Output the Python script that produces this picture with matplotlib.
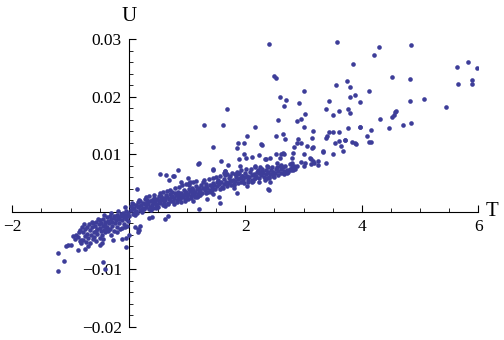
import matplotlib
matplotlib.use("Agg")
import matplotlib.pyplot as plt
from matplotlib.ticker import MultipleLocator, FixedLocator
import numpy as np

# Points, as (T, U) pairs, grouped by region

# left tail, T < 0
tail_neg = [
    (-1.21, -0.0103), (-1.21, -0.0071), (-1.12, -0.0086), (-1.07, -0.0059),
    (-1.04, -0.0058), (-0.99, -0.0058), (-0.87, -0.0066), (-0.75, -0.0064),
    (-0.82, -0.0055), (-0.79, -0.0050), (-0.84, -0.0051), (-0.49, -0.0058),
    (-0.45, -0.0088), (-0.41, -0.0099), (-0.44, -0.0047), (-0.27, -0.0050),
    (-0.12, -0.0047), (-0.04, -0.0045), (-0.05, -0.0062), (-0.46, -0.0055),
    (-0.70, -0.0060), (-0.92, -0.0048), (-0.95, -0.0043),
]

# dense cluster left of the origin
core_neg = [
    (-0.80, -0.0027), (-0.78, -0.0035), (-0.76, -0.0042), (-0.75, -0.0030),
    (-0.72, -0.0026), (-0.71, -0.0038), (-0.70, -0.0046), (-0.68, -0.0022),
    (-0.66, -0.0031), (-0.65, -0.0040), (-0.63, -0.0027), (-0.62, -0.0020),
    (-0.60, -0.0035), (-0.59, -0.0044), (-0.58, -0.0024), (-0.56, -0.0018),
    (-0.55, -0.0030), (-0.54, -0.0039), (-0.52, -0.0022), (-0.50, -0.0015),
    (-0.50, -0.0028), (-0.48, -0.0034), (-0.47, -0.0019), (-0.45, -0.0025),
    (-0.44, -0.0012), (-0.42, -0.0031), (-0.41, -0.0017), (-0.40, -0.0022),
    (-0.38, -0.0010), (-0.37, -0.0027), (-0.36, -0.0016), (-0.34, -0.0020),
    (-0.33, -0.0008), (-0.32, -0.0030), (-0.30, -0.0013), (-0.29, -0.0018),
    (-0.28, -0.0024), (-0.26, -0.0007), (-0.25, -0.0011), (-0.24, -0.0020),
    (-0.22, -0.0015), (-0.21, -0.0005), (-0.20, -0.0026), (-0.18, -0.0009),
    (-0.17, -0.0013), (-0.16, -0.0019), (-0.14, -0.0004), (-0.13, -0.0008),
    (-0.12, -0.0015), (-0.10, -0.0002), (-0.09, -0.0010), (-0.08, -0.0021),
    (-0.06, -0.0005), (-0.05, -0.0012), (-0.04, 0.0001), (-0.03, -0.0007),
    (-0.02, -0.0016), (-0.01, -0.0003), (-0.06, 0.0008), (-0.46, -0.0040),
    (-0.40, -0.0036), (-0.35, -0.0034), (-0.62, -0.0048), (-0.86, -0.0036),
    (-0.88, -0.0044), (-0.84, -0.0032), (-0.90, -0.0040), (-0.82, -0.0049),
    (-0.74, -0.0052), (-0.67, -0.0055), (-0.56, -0.0051), (-0.50, -0.0046),
    (-0.30, -0.0040), (-0.26, -0.0034), (-0.20, -0.0036), (-0.15, -0.0030),
    (-0.11, -0.0028), (-0.06, -0.0026), (-0.03, -0.0024), (0.00, -0.0041),
    (-0.77, -0.0021), (-0.64, -0.0017), (-0.53, -0.0012), (-0.43, -0.0006),
    (-0.31, -0.0003), (-0.19, 0.0001), (-0.57, -0.0034), (-0.39, -0.0029),
]

# dense cluster right of the origin, 0 < T < 1.2
core_pos = [
    (0.03, 0.0003), (0.01, -0.0007), (0.04, 0.0010), (0.06, 0.0005),
    (0.07, -0.0004), (0.05, 0.0015), (0.09, 0.0007), (0.10, -0.0001),
    (0.08, 0.0013), (0.12, 0.0002), (0.13, 0.0011), (0.11, -0.0006),
    (0.15, 0.0008), (0.16, 0.0017), (0.14, -0.0002), (0.18, 0.0010),
    (0.19, 0.0003), (0.17, 0.0021), (0.21, 0.0012), (0.22, 0.0004),
    (0.20, 0.0019), (0.24, 0.0007), (0.25, 0.0016), (0.23, -0.0001),
    (0.27, 0.0013), (0.28, 0.0022), (0.26, 0.0005), (0.30, 0.0009),
    (0.31, 0.0017), (0.29, 0.0025), (0.33, 0.0014), (0.34, 0.0005),
    (0.32, 0.0021), (0.36, 0.0018), (0.37, 0.0009), (0.35, 0.0027),
    (0.39, 0.0012), (0.40, 0.0020), (0.38, 0.0003), (0.42, 0.0016),
    (0.43, 0.0024), (0.41, 0.0007), (0.45, 0.0019), (0.46, 0.0011),
    (0.44, 0.0029), (0.48, 0.0014), (0.49, 0.0022), (0.47, 0.0006),
    (0.51, 0.0019), (0.52, 0.0027), (0.50, 0.0009), (0.54, 0.0016),
    (0.55, 0.0023), (0.53, 0.0033), (0.57, 0.0020), (0.58, 0.0011),
    (0.56, 0.0027), (0.60, 0.0024), (0.61, 0.0015), (0.59, 0.0034),
    (0.63, 0.0021), (0.64, 0.0029), (0.62, 0.0010), (0.66, 0.0025),
    (0.67, 0.0016), (0.65, 0.0036), (0.69, 0.0022), (0.70, 0.0031),
    (0.68, 0.0013), (0.72, 0.0026), (0.73, 0.0018), (0.71, 0.0038),
    (0.75, 0.0028), (0.76, 0.0019), (0.74, 0.0034), (0.78, 0.0024),
    (0.79, 0.0032), (0.77, 0.0014), (0.81, 0.0029), (0.82, 0.0020),
    (0.80, 0.0041), (0.84, 0.0026), (0.85, 0.0035), (0.83, 0.0017),
    (0.87, 0.0030), (0.88, 0.0022), (0.86, 0.0043), (0.90, 0.0032),
    (0.91, 0.0026), (0.89, 0.0017), (0.93, 0.0028), (0.94, 0.0037),
    (0.92, 0.0046), (0.96, 0.0033), (0.97, 0.0022), (0.95, 0.0030),
    (0.99, 0.0035), (1.00, 0.0027), (0.98, 0.0048), (1.02, 0.0031),
    (1.03, 0.0039), (1.01, 0.0023), (1.05, 0.0036), (1.06, 0.0028),
    (1.04, 0.0050), (1.08, 0.0033), (1.09, 0.0042), (1.07, 0.0024),
    (1.11, 0.0037), (1.12, 0.0029), (1.10, 0.0052), (1.14, 0.0035),
    (1.15, 0.0045), (1.13, 0.0026), (1.17, 0.0039), (1.18, 0.0031),
    (1.16, 0.0054), (1.20, 0.0041), (1.21, 0.0035), (1.19, 0.0027),
    (0.14, 0.0039), (0.11, -0.0027), (0.16, -0.0030), (0.20, -0.0025),
    (0.15, -0.0035), (0.17, -0.0031), (0.34, -0.0011), (0.62, -0.0013),
    (0.68, -0.0007), (0.39, -0.0010), (0.53, 0.0066), (0.64, 0.0064),
    (0.77, 0.0062), (0.69, 0.0056), (0.85, 0.0073), (0.89, 0.0051),
    (1.01, 0.0058), (1.05, 0.0051), (1.03, 0.0046), (0.76, 0.0062),
    (1.21, 0.0005), (1.17, 0.0025), (1.11, 0.0019), (0.97, 0.0019),
]

# main band, 1.2 < T < 2.9
band = [
    (1.23, 0.0038), (1.24, 0.0046), (1.22, 0.0030), (1.27, 0.0041),
    (1.28, 0.0051), (1.25, 0.0033), (1.31, 0.0037), (1.32, 0.0045),
    (1.29, 0.0055), (1.35, 0.0042), (1.36, 0.0034), (1.33, 0.0049),
    (1.39, 0.0046), (1.40, 0.0038), (1.37, 0.0057), (1.43, 0.0043),
    (1.44, 0.0050), (1.41, 0.0035), (1.47, 0.0047), (1.48, 0.0039),
    (1.45, 0.0058), (1.51, 0.0044), (1.52, 0.0052), (1.49, 0.0061),
    (1.55, 0.0048), (1.56, 0.0040), (1.53, 0.0056), (1.59, 0.0051),
    (1.60, 0.0043), (1.57, 0.0062), (1.63, 0.0049), (1.64, 0.0057),
    (1.61, 0.0041), (1.67, 0.0052), (1.68, 0.0045), (1.65, 0.0064),
    (1.71, 0.0050), (1.72, 0.0059), (1.69, 0.0066), (1.75, 0.0053),
    (1.76, 0.0046), (1.73, 0.0063), (1.79, 0.0056), (1.80, 0.0049),
    (1.77, 0.0068), (1.83, 0.0054), (1.84, 0.0061), (1.81, 0.0046),
    (1.87, 0.0057), (1.88, 0.0050), (1.85, 0.0070), (1.91, 0.0059),
    (1.92, 0.0052), (1.89, 0.0067), (1.95, 0.0062), (1.96, 0.0055),
    (1.93, 0.0073), (1.99, 0.0060), (2.00, 0.0067), (1.97, 0.0050),
    (2.03, 0.0063), (2.04, 0.0055), (2.01, 0.0074), (2.07, 0.0060),
    (2.08, 0.0069), (2.05, 0.0052), (2.11, 0.0064), (2.12, 0.0056),
    (2.09, 0.0075), (2.15, 0.0066), (2.16, 0.0059), (2.13, 0.0053),
    (2.19, 0.0062), (2.20, 0.0070), (2.17, 0.0077), (2.23, 0.0067),
    (2.24, 0.0058), (2.21, 0.0073), (2.27, 0.0064), (2.28, 0.0071),
    (2.25, 0.0078), (2.31, 0.0068), (2.32, 0.0060), (2.29, 0.0075),
    (2.35, 0.0065), (2.36, 0.0072), (2.33, 0.0056), (2.39, 0.0069),
    (2.40, 0.0061), (2.37, 0.0079), (2.43, 0.0066), (2.44, 0.0073),
    (2.41, 0.0058), (2.47, 0.0070), (2.48, 0.0062), (2.45, 0.0077),
    (2.51, 0.0067), (2.52, 0.0074), (2.49, 0.0060), (2.56, 0.0071),
    (2.57, 0.0064), (2.54, 0.0078), (2.61, 0.0068), (2.62, 0.0075),
    (2.59, 0.0080), (2.66, 0.0071), (2.67, 0.0065), (2.64, 0.0077),
    (2.71, 0.0073), (2.72, 0.0068), (2.69, 0.0079), (2.76, 0.0075),
    (2.74, 0.0070), (2.81, 0.0077), (2.79, 0.0073), (2.86, 0.0075),
    (2.84, 0.0079), (1.45, 0.0031), (1.54, 0.0025), (1.57, 0.0016),
    (1.34, 0.0022), (1.09, 0.0039), (1.12, 0.0032), (1.32, 0.0032),
    (1.43, 0.0038), (1.80, 0.0042), (1.85, 0.0033), (2.03, 0.0045),
    (2.40, 0.0037), (2.39, 0.0039), (2.11, 0.0051), (2.24, 0.0051),
    (2.43, 0.0051), (1.63, 0.0068), (1.66, 0.0071), (1.44, 0.0073),
    (1.83, 0.0065), (1.88, 0.0066), (1.95, 0.0062), (2.29, 0.0071),
    (2.48, 0.0066), (2.82, 0.0072), (2.17, 0.0059), (2.37, 0.0059),
]

# sparse points above the band
upper = [
    (2.40, 0.0291), (3.58, 0.0295), (4.84, 0.0290), (4.30, 0.0286),
    (4.21, 0.0273), (3.85, 0.0257), (5.64, 0.0252), (5.83, 0.0260),
    (5.97, 0.0250), (2.50, 0.0237), (2.53, 0.0233), (4.52, 0.0234),
    (4.82, 0.0231), (3.75, 0.0227), (3.55, 0.0221), (3.80, 0.0217),
    (5.66, 0.0222), (5.90, 0.0229), (5.90, 0.0222), (3.01, 0.0210),
    (4.13, 0.0210), (3.89, 0.0203), (3.80, 0.0200), (2.59, 0.0200),
    (2.70, 0.0195), (3.97, 0.0191), (3.44, 0.0193), (4.83, 0.0193),
    (5.07, 0.0196), (2.93, 0.0189), (2.67, 0.0184), (5.45, 0.0183),
    (1.68, 0.0179), (3.39, 0.0179), (3.61, 0.0176), (3.77, 0.0178),
    (3.80, 0.0172), (4.59, 0.0176), (4.57, 0.0174), (3.03, 0.0170),
    (2.96, 0.0162), (2.89, 0.0158), (3.51, 0.0169), (2.57, 0.0160),
    (4.32, 0.0162), (4.52, 0.0164), (4.85, 0.0155), (4.70, 0.0151),
    (4.47, 0.0145), (4.16, 0.0143), (3.97, 0.0148), (3.77, 0.0146),
    (3.01, 0.0148), (2.17, 0.0148), (1.29, 0.0151), (1.61, 0.0151),
    (3.17, 0.0141), (3.44, 0.0139), (3.50, 0.0139), (3.61, 0.0139),
    (2.64, 0.0136), (2.53, 0.0132), (2.03, 0.0132), (4.09, 0.0131),
    (3.40, 0.0131), (3.15, 0.0129), (3.39, 0.0128), (2.69, 0.0126),
    (2.91, 0.0126), (4.15, 0.0122), (3.72, 0.0124), (3.61, 0.0123),
    (3.84, 0.0122), (3.89, 0.0119), (3.54, 0.0120), (2.88, 0.0120),
    (2.96, 0.0119), (1.98, 0.0120), (1.88, 0.0120), (2.27, 0.0117),
    (3.64, 0.0115), (3.06, 0.0114), (3.14, 0.0111), (3.16, 0.0112),
    (1.45, 0.0112), (1.86, 0.0111), (2.28, 0.0116), (2.84, 0.0112),
    (2.82, 0.0102), (2.64, 0.0102), (3.68, 0.0105), (3.34, 0.0105),
    (3.51, 0.0101), (1.97, 0.0101), (2.11, 0.0095), (2.24, 0.0098),
    (2.52, 0.0100), (2.61, 0.0100), (2.66, 0.0100), (2.81, 0.0093),
    (3.11, 0.0093), (2.33, 0.0091), (2.36, 0.0092), (1.89, 0.0092),
    (2.02, 0.0093), (2.42, 0.0093), (2.59, 0.0093), (1.59, 0.0089),
    (1.20, 0.0084), (1.70, 0.0082), (1.19, 0.0083), (1.45, 0.0074),
    (3.24, 0.0089), (3.17, 0.0088), (3.13, 0.0092), (3.25, 0.0081),
    (3.38, 0.0084), (2.96, 0.0087), (3.03, 0.0085), (3.12, 0.0083),
    (3.18, 0.0085), (2.55, 0.0084), (2.81, 0.0084), (3.01, 0.0079),
    (2.89, 0.0079), (2.77, 0.0083), (2.62, 0.0082), (2.39, 0.0077),
    (2.16, 0.0079), (1.91, 0.0079), (3.90, 0.0118), (3.71, 0.0124),
    (3.97, 0.0147), (4.55, 0.0168), (4.13, 0.0121), (3.00, 0.0100),
    (3.33, 0.0104), (1.74, 0.0054), (1.65, 0.0071),
]

x_label = "T"
y_label = "U"
x_ticks = [-2, 2, 4, 6]
y_ticks = [-0.02, -0.01, 0.01, 0.02, 0.03]

pts = np.array(tail_neg + core_neg + core_pos + band + upper)

plt.rcParams["font.family"] = ["Liberation Serif", "DejaVu Serif"]

fig = plt.figure(figsize=(5.04, 3.40), dpi=100)
ax = fig.add_axes([0.0244, 0.0391, 0.9246, 0.8453])

ax.scatter(pts[:, 0], pts[:, 1], s=11, color="#3d3d99", linewidths=0, zorder=3)

ax.set_xlim(-2, 6)
ax.set_ylim(-0.02, 0.03)

# Mathematica style axes crossing at the origin
ax.spines["left"].set_position(("data", 0))
ax.spines["bottom"].set_position(("data", 0))
ax.spines["top"].set_visible(False)
ax.spines["right"].set_visible(False)
for s in ("left", "bottom"):
    ax.spines[s].set_linewidth(0.8)

ax.xaxis.set_major_locator(FixedLocator(x_ticks))
ax.xaxis.set_minor_locator(MultipleLocator(0.5))
ax.yaxis.set_major_locator(FixedLocator(y_ticks))
ax.yaxis.set_minor_locator(MultipleLocator(0.002))
ax.set_xticklabels(["\u22122", "2", "4", "6"])
ax.set_yticklabels(["\u22120.02", "\u22120.01", "0.01", "0.02", "0.03"])

ax.tick_params(which="major", direction="in", length=5, width=0.8, labelsize=12.5, pad=5)
ax.tick_params(which="minor", direction="in", length=3, width=0.6)

ax.text(6.12, 0.0, x_label, fontsize=15, ha="left", va="center")
ax.text(0.0, 0.0323, y_label, fontsize=15, ha="center", va="bottom")

fig.savefig("out.png", dpi=100)
